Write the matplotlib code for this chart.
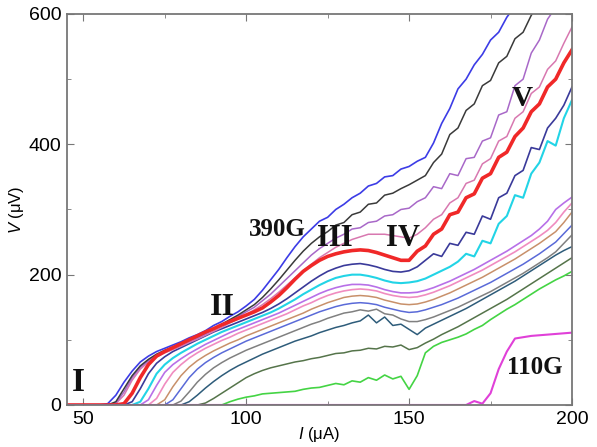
import numpy as np
import matplotlib
matplotlib.use("Agg")
import matplotlib.pyplot as plt
from matplotlib.ticker import MultipleLocator

plt.rcParams['font.family'] = ['Liberation Sans', 'DejaVu Sans']
plt.rcParams['mathtext.fontset'] = 'custom'
plt.rcParams['mathtext.it'] = 'Liberation Sans:italic'
plt.rcParams['mathtext.rm'] = 'Liberation Sans'

# current sweep (uA), one V value per point for every curve
I = np.arange(45, 200.1, 2.5)

v_blue = [0, 0, 0, 0, 0, 2, 15, 35, 52, 66,
          75, 82, 87, 92, 97, 103, 108, 114, 122, 128,
          136, 143, 152, 162, 176, 192, 208, 226, 243, 258,
          270, 282, 288, 300, 308, 318, 325, 336, 340, 350,
          352, 362, 366, 374, 380, 402, 432, 455, 485, 500,
          522, 538, 560, 572, 595, 612, 625, 640, 650, 665,
          675, 690, 700]
v_black = [0, 0, 0, 0, 0, 0, 5, 25, 45, 60,
           70, 78, 84, 89, 94, 100, 105, 111, 118, 124,
           131, 138, 146, 154, 165, 178, 192, 207, 222, 236,
           248, 258, 266, 276, 280, 292, 296, 308, 310, 322,
           325, 332, 338, 345, 352, 372, 385, 415, 425, 452,
           462, 490, 498, 525, 535, 562, 572, 598, 615, 630,
           640, 655, 665]
v_mauve = [0, 0, 0, 0, 0, 0, 3, 20, 42, 58,
           68, 76, 82, 87, 92, 98, 103, 109, 116, 122,
           129, 136, 143, 150, 160, 170, 182, 194, 206, 218,
           230, 240, 248, 256, 262, 270, 272, 280, 282, 290,
           292, 300, 302, 312, 318, 335, 332, 355, 352, 378,
           380, 405, 410, 445, 450, 490, 500, 540, 560, 592,
           610, 630, 650]
v_pink2 = [0, 0, 0, 0, 0, 0, 2, 15, 38, 55,
           66, 74, 80, 85, 90, 96, 101, 107, 113, 119,
           126, 132, 139, 146, 154, 163, 173, 184, 195, 206,
           216, 226, 234, 242, 248, 254, 258, 262, 262, 262,
           260, 258, 256, 262, 272, 285, 292, 310, 318, 340,
           345, 370, 378, 405, 412, 440, 450, 478, 488, 515,
           528, 555, 580]
v_red = [0, 0, 0, 0, 0, 0, 0, 2, 18, 42,
         62, 75, 82, 88, 94, 100, 106, 112, 117, 123,
         128, 133, 138, 143, 149, 158, 168, 180, 193, 205,
         214, 222, 228, 232, 235, 237, 238, 237, 234, 230,
         226, 222, 222, 236, 244, 262, 270, 292, 296, 318,
         324, 348, 355, 380, 388, 412, 425, 450, 462, 488,
         500, 525, 545]
v_navy = [0, 0, 0, 0, 0, 0, 0, 0, 5, 25,
          48, 64, 74, 82, 88, 94, 100, 106, 112, 117,
          122, 127, 132, 137, 142, 148, 155, 163, 172, 181,
          190, 198, 205, 210, 214, 216, 217, 215, 212, 208,
          205, 204, 206, 212, 222, 232, 228, 248, 245, 265,
          262, 290, 285, 318, 325, 352, 360, 395, 392, 425,
          440, 460, 488]
v_cyan = [0, 0, 0, 0, 0, 0, 0, 0, 0, 5,
          25, 48, 62, 72, 80, 87, 94, 100, 106, 112,
          117, 122, 127, 132, 137, 142, 148, 155, 162, 170,
          177, 184, 190, 195, 198, 200, 200, 198, 195, 191,
          188, 187, 188, 190, 194, 200, 206, 212, 220, 232,
          228, 252, 248, 278, 290, 322, 318, 355, 372, 405,
          398, 440, 468]
v_lavender = [0] * 10 + [
    8, 30, 50, 62, 71, 79, 86, 93, 99, 105,
    111, 116, 121, 126, 131, 136, 141, 147, 153, 159,
    165, 171, 176, 180, 183, 185, 185, 184, 181, 177,
    174, 172, 172, 173, 176, 180, 185, 190, 196, 202,
    208, 215, 222, 229, 236, 244, 252, 260, 270, 282,
    300, 310, 319]
v_pink = [0] * 10 + [
    0, 10, 32, 50, 62, 72, 80, 87, 93, 99,
    104, 110, 115, 120, 125, 130, 135, 140, 146, 152,
    157, 163, 168, 172, 175, 177, 178, 177, 175, 171,
    168, 166, 165, 166, 169, 173, 178, 183, 189, 195,
    201, 207, 214, 221, 228, 235, 243, 251, 259, 268,
    280, 296, 310]
v_orange = [0] * 10 + [
    0, 0, 8, 28, 45, 58, 68, 76, 83, 89,
    95, 100, 106, 111, 116, 121, 126, 131, 136, 141,
    147, 152, 157, 161, 165, 167, 168, 167, 165, 161,
    158, 155, 154, 155, 158, 162, 167, 172, 178, 184,
    190, 196, 203, 210, 217, 224, 232, 240, 248, 257,
    266, 280, 296]
v_blue2 = [0] * 10 + [
    0, 0, 0, 8, 25, 42, 55, 65, 73, 80,
    86, 92, 98, 103, 108, 113, 118, 123, 128, 133,
    138, 143, 147, 151, 154, 156, 157, 156, 154, 150,
    147, 144, 142, 143, 146, 150, 154, 159, 164, 170,
    176, 182, 188, 195, 202, 209, 216, 224, 232, 241,
    250, 263, 276]
v_gray = [0] * 10 + [
    0, 0, 0, 0, 6, 20, 35, 47, 57, 65,
    72, 78, 84, 89, 94, 99, 104, 109, 114, 119,
    124, 128, 133, 137, 141, 143, 146, 144, 147, 140,
    138, 132, 128, 128, 131, 135, 140, 145, 150, 156,
    162, 168, 174, 181, 188, 195, 202, 210, 218, 226,
    235, 248, 261]
v_teal = [0] * 10 + [
    0, 0, 0, 0, 0, 5, 15, 26, 36, 45,
    53, 60, 66, 72, 78, 83, 88, 93, 98, 102,
    106, 111, 115, 119, 122, 126, 129, 138, 126, 135,
    122, 124, 116, 108, 118, 124, 130, 136, 142, 148,
    155, 162, 169, 176, 183, 190, 198, 206, 214, 222,
    230, 237, 243]
v_olive = [0] * 10 + [
    0, 0, 0, 0, 0, 0, 0, 3, 10, 18,
    26, 34, 42, 48, 53, 57, 60, 63, 66, 68,
    71, 73, 76, 79, 80, 83, 84, 87, 86, 90,
    89, 92, 85, 88, 95, 101, 108, 114, 120, 127,
    134, 141, 148, 155, 162, 170, 178, 186, 194, 202,
    210, 218, 226]
v_green = [0] * 20 + [
    5, 9, 12, 14, 17, 18, 19, 20, 21, 24,
    26, 27, 30, 33, 31, 37, 35, 42, 38, 46,
    40, 44, 24, 45, 80, 90, 96, 100, 104, 109,
    116, 122, 131, 139, 147, 154, 162, 170, 178, 185,
    192, 198, 205]
v_110G = [0] * 50 + [6, 2, 18, 55, 82, 102, 104, 106, 107, 108,
                     109, 110, 111]

curves = [
    (v_green, '#44d444', 1.2),
    (v_olive, '#55744a', 1.1),
    (v_teal, '#2e5c7a', 1.1),
    (v_gray, '#808080', 1.1),
    (v_blue2, '#5a6ad8', 1.1),
    (v_orange, '#c8906a', 1.1),
    (v_pink, '#f08cc0', 1.2),
    (v_lavender, '#b870e8', 1.2),
    (v_cyan, '#22d4e6', 1.5),
    (v_navy, '#3a3a9a', 1.2),
    (v_pink2, '#d878b0', 1.1),
    (v_mauve, '#a868c8', 1.1),
    (v_black, '#3a3a3a', 1.1),
    (v_blue, '#3c3ce6', 1.2),
    (v_red, '#f02828', 2.6),
    (v_110G, '#e040d8', 1.5),
]

fig = plt.figure(figsize=(5.97, 4.47), dpi=100)
ax = fig.add_axes([0.1122, 0.094, 0.8459, 0.8747])

for v, c, lw in curves:
    ax.plot(I, v, color=c, lw=lw, solid_joinstyle='round')

ax.set_xlim(45, 200)
ax.set_ylim(0, 600)
ax.xaxis.set_major_locator(MultipleLocator(50))
ax.xaxis.set_minor_locator(MultipleLocator(25))
ax.yaxis.set_major_locator(MultipleLocator(200))
ax.yaxis.set_minor_locator(MultipleLocator(100))
ax.tick_params(which='both', direction='in', top=True, right=True,
               labelsize=14, color='#777777', pad=4)
ax.tick_params(which='major', length=5)
ax.tick_params(which='minor', length=3)
for s in ax.spines.values():
    s.set_color('#777777')
    s.set_linewidth(1.3)

ax.set_xlabel(r'$I$ (μA)', fontsize=12, labelpad=-2)
ax.set_ylabel(r'$V$ (μV)', fontsize=12, labelpad=2)

lab = dict(family='Liberation Serif', weight='bold', color='#111111',
           ha='center', va='center')
ax.text(48.4, 34, 'I', fontsize=24, **lab)
ax.text(92.6, 150, 'II', fontsize=23, **lab)
ax.text(109.5, 269, '390G', fontsize=18, **lab)
ax.text(127.3, 256, 'III', fontsize=22, **lab)
ax.text(148.2, 256, 'IV', fontsize=22, **lab)
ax.text(184.7, 470, 'V', fontsize=21, **lab)
ax.text(188.7, 57, '110G', fontsize=18, **lab)

fig.savefig('out.png', dpi=100)
